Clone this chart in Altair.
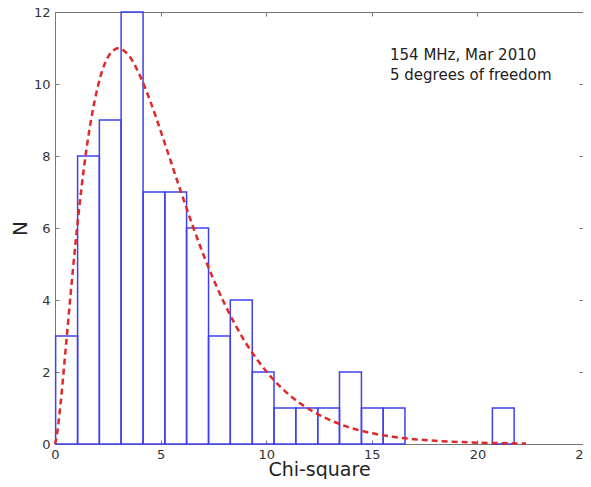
import altair as alt
import pandas as pd

# Histogram
bin_edges = [0.03, 1.07, 2.10, 3.13, 4.17, 5.20, 6.23, 7.27, 8.30, 9.34, 10.37,
             11.40, 12.44, 13.47, 14.51, 15.54, 16.57, 17.61, 18.64, 19.68, 20.71, 21.74]
bin_counts = [3, 8, 9, 12, 7, 7, 6, 3, 4, 2, 1, 1, 1, 2, 1, 1, 0, 0, 0, 0, 1]

# Dashed curve
curve_x = [0, 0.1, 0.25, 0.5, 0.75, 1, 1.5, 2, 2.5, 3, 3.5, 4, 4.5, 5, 5.5, 6, 7, 8, 9,
           10, 11, 12, 13, 14, 15, 16, 17, 18, 19, 20, 21, 22, 22.3]
curve_y = [0, 0.29, 1.05, 2.61, 4.23, 5.75, 8.23, 9.86, 10.74, 10.99, 10.79, 10.26, 9.54,
           8.70, 7.82, 6.94, 5.30, 3.93, 2.84, 2.02, 1.41, 0.98, 0.67, 0.45, 0.30, 0.20,
           0.135, 0.089, 0.059, 0.038, 0.025, 0.016, 0.013]

x_ticks = [0, 5, 10, 15, 20, 25]
y_ticks = [0, 2, 4, 6, 8, 10, 12]
note_text = "154 MHz, Mar 2010\n5 degrees of freedom"

FONT = "DejaVu Sans"
FRAME = "#777777"

hist = pd.DataFrame({"start": bin_edges[:-1], "end": bin_edges[1:], "n": bin_counts})
hist = hist[hist["n"] > 0]
curve = pd.DataFrame({"cx": curve_x, "cy": curve_y})
note = pd.DataFrame({"t": [note_text]})

xs = alt.Scale(domain=[0, 25], nice=False, zero=False)
ys = alt.Scale(domain=[0, 12], nice=False, zero=False)

common = dict(offset=-4, tickSize=4, domain=False, grid=False, tickColor=FRAME,
              tickWidth=1, labelFlush=False)

x_bottom = alt.Axis(orient="bottom", values=x_ticks, labelPadding=4, labelFontSize=13,
                    labelFont=FONT, labelColor="#333333", title="Chi-square",
                    titleFont=FONT, titleFontSize=19, titleFontWeight="normal",
                    titleColor="#222222", titlePadding=-1, **common)
y_left = alt.Axis(orient="left", values=y_ticks, labelPadding=5, labelFontSize=13,
                  labelFont=FONT, labelColor="#333333", title="N",
                  titleFont=FONT, titleFontSize=20, titleFontWeight="normal",
                  titleColor="#222222", titlePadding=3, **common)
x_top = alt.Axis(orient="top", values=x_ticks, labels=False, title=None, **common)
y_right = alt.Axis(orient="right", values=y_ticks, labels=False, title=None, **common)

bars = alt.Chart(hist).mark_rect(fillOpacity=0, fill="white", stroke="#4040ee",
                                 strokeWidth=1.5).encode(
    x=alt.X("start:Q", scale=xs, axis=x_bottom),
    x2="end:Q",
    y=alt.Y("n:Q", scale=ys, axis=y_left),
    y2=alt.datum(0),
)

line = alt.Chart(curve).mark_line(color="#e02828", strokeWidth=2.5,
                                  strokeDash=[6, 4], interpolate="monotone").encode(
    x=alt.X("cx:Q", scale=xs, axis=x_top),
    y=alt.Y("cy:Q", scale=ys, axis=y_right),
)

text = alt.Chart(note).mark_text(align="left", baseline="alphabetic", fontSize=15,
                                 font=FONT, lineBreak="\n", lineHeight=20,
                                 color="#222222").encode(
    x=alt.value(335), y=alt.value(47.5), text="t:N"
)

chart = alt.layer(bars, line, text).resolve_axis(
    x="independent", y="independent"
).properties(
    width=528, height=432,
    autosize=alt.AutoSizeParams(type="none"),
    padding={"left": 47, "top": 4, "right": 0, "bottom": 35},
).configure_view(stroke=FRAME, strokeWidth=1)

chart.save("out.html", embed_options={"renderer": "svg", "actions": False})
